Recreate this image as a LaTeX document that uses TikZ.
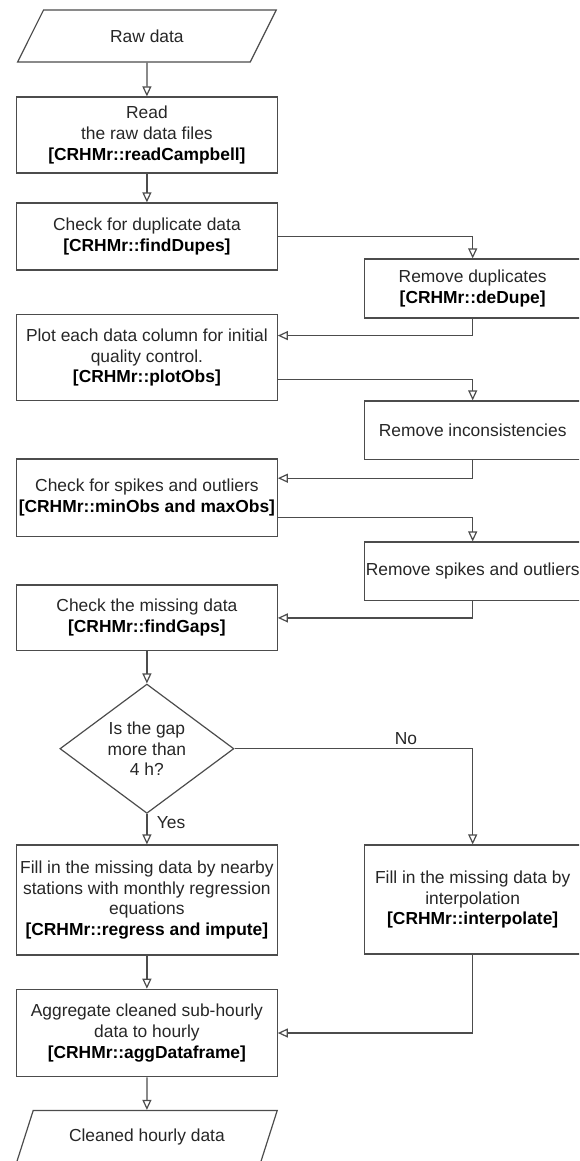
\documentclass[tikz,border=0pt]{standalone}
\usepackage{fontspec}
\setmainfont{Liberation Sans}
\usepackage{tikz}
\usetikzlibrary{arrows.meta, shapes.geometric, calc}

\newcommand{\crhm}[1]{\textbf{\color{black}[CRHMr::#1]}}

\begin{document}
\begin{tikzpicture}[
        x=1pt, y=-1pt,
        every node/.style={font=\fontsize{17.4}{20.9}\selectfont, text=black!85},
        proc/.style={draw=black!70, line width=1.2pt, rectangle, align=center, inner sep=1pt, minimum width=260.7pt},
        side/.style={proc, minimum width=216.5pt},
        io/.style={draw=black!70, line width=1.2pt, trapezium, trapezium left angle=62.6, trapezium right angle=117.4, trapezium stretches, minimum width=260.7pt, minimum height=52pt, align=center},
        decision/.style={draw=black!70, line width=1.2pt, diamond, aspect=1.35, minimum width=174pt, minimum height=129.3pt, align=center, inner sep=1pt},
        flow/.style={draw=black!70, line width=1.2pt, -{Triangle[open, length=10pt, width=9pt]}},
    ]
        \useasboundingbox (0,0) rectangle (579,1161);
        \clip (0,0) rectangle (579,1161);

        \node[io] (raw) at (146.9, 36) {Raw data};
        \node[proc, minimum height=76pt] (read) at (146.9, 135) {Read\\the raw data files\\\crhm{readCampbell}};
        \node[proc, minimum height=67pt] (chkdup) at (146.9, 236.5) {Check for duplicate data\\\crhm{findDupes}};
        \node[side, minimum height=59pt] (remdup) at (472.7, 288.5) {Remove duplicates\\\crhm{deDupe}};
        \node[proc, minimum height=86.4pt] (plot) at (146.9, 357.5) {Plot each data column for initial\\quality control.\\\crhm{plotObs}};
        \node[side, minimum height=58.5pt] (reminc) at (472.7, 430.2) {Remove inconsistencies};
        \node[proc, minimum height=77.7pt] (chkspk) at (146.9, 497.9) {Check for spikes and outliers\\\crhm{minObs and maxObs}};
        \node[side, minimum height=58.7pt] (remspk) at (472.7, 571.4) {Remove spikes and outliers};
        \node[proc, minimum height=65.7pt] (chkmis) at (146.9, 617.9) {Check the missing data\\\crhm{findGaps}};
        \node[decision] (gap) at (146.9, 748.7) {Is the gap\\more than\\4 h?};
        \node[proc, minimum height=110pt] (fillreg) at (146.9, 900) {Fill in the missing data by nearby\\stations with monthly regression\\equations\\\crhm{regress and impute}};
        \node[side, minimum height=109pt] (fillint) at (472.7, 899.5) {Fill in the missing data by\\interpolation\\\crhm{interpolate}};
        \node[proc, minimum height=87.4pt] (agg) at (146.9, 1033) {Aggregate cleaned sub-hourly\\data to hourly\\\crhm{aggDataframe}};
        \node[io] (clean) at (146.9, 1136.5) {Cleaned hourly data};

        \draw[flow] (raw) -- (read);
        \draw[flow] (read) -- (chkdup);
        \draw[flow] (chkdup.east) -| (remdup.north);
        \draw[flow] (remdup.south) |- ($(plot.north east)!.25!(plot.south east)$);
        \draw[flow] ($(plot.north east)!.75!(plot.south east)$) -| (reminc.north);
        \draw[flow] (reminc.south) |- ($(chkspk.north east)!.25!(chkspk.south east)$);
        \draw[flow] ($(chkspk.north east)!.75!(chkspk.south east)$) -| (remspk.north);
        \draw[flow] (remspk.south) |- (chkmis.east);
        \draw[flow] (chkmis) -- (gap);
        \draw[flow] (gap) -- node[pos=.28, anchor=west, xshift=6pt] {Yes} (fillreg);
        \draw[flow] (gap.east) -| node[pos=.36, above] {No} (fillint.north);
        \draw[flow] (fillreg) -- (agg);
        \draw[flow] (fillint.south) |- (agg.east);
        \draw[flow] (agg) -- (clean);
\end{tikzpicture}
\end{document}
